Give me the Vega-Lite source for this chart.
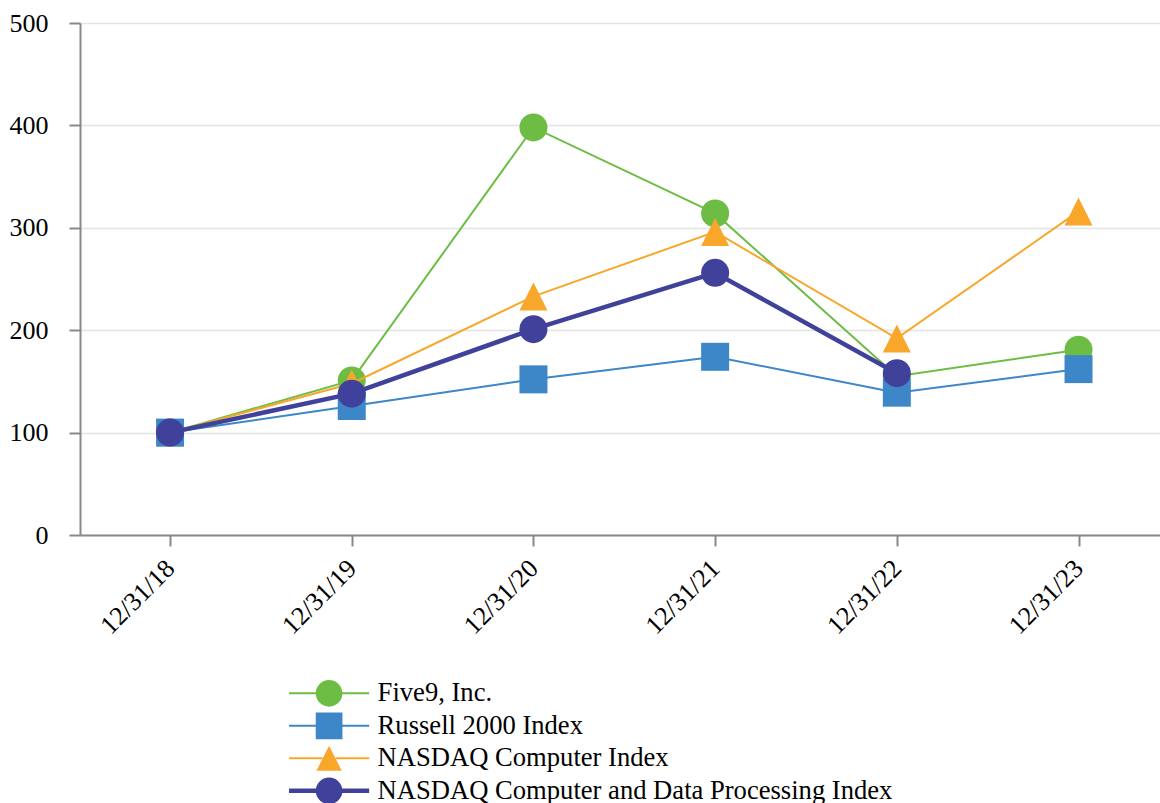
{
  "$schema": "https://vega.github.io/schema/vega-lite/v6.json",
  "width": 1080,
  "height": 512,
  "autosize": {"type": "none"},
  "padding": {"left": 80, "top": 23, "right": 0, "bottom": 268},
  "background": "white",
  "config": {
    "view": {"stroke": null},
    "font": "Liberation Serif",
    "legend": {
      "orient": "none", "legendX": 235.6, "legendY": 656.8, "direction": "vertical", "title": null,
      "padding": 0, "rowPadding": 4.5, "labelFont": "Liberation Serif", "labelFontSize": 26.6,
      "labelColor": "#000000", "labelOffset": 35, "labelLimit": 1000, "symbolSize": 713,
      "symbolStrokeWidth": 0, "symbolOpacity": 1
    }
  },
  "data": {
    "values": [
      {"date": "12/31/18", "series": "Five9, Inc.", "value": 100},
      {"date": "12/31/19", "series": "Five9, Inc.", "value": 151},
      {"date": "12/31/20", "series": "Five9, Inc.", "value": 398},
      {"date": "12/31/21", "series": "Five9, Inc.", "value": 314},
      {"date": "12/31/22", "series": "Five9, Inc.", "value": 155},
      {"date": "12/31/23", "series": "Five9, Inc.", "value": 181},
      {"date": "12/31/18", "series": "Russell 2000 Index", "value": 100},
      {"date": "12/31/19", "series": "Russell 2000 Index", "value": 126},
      {"date": "12/31/20", "series": "Russell 2000 Index", "value": 152},
      {"date": "12/31/21", "series": "Russell 2000 Index", "value": 174},
      {"date": "12/31/22", "series": "Russell 2000 Index", "value": 139},
      {"date": "12/31/23", "series": "Russell 2000 Index", "value": 162},
      {"date": "12/31/18", "series": "NASDAQ Computer Index", "value": 100},
      {"date": "12/31/19", "series": "NASDAQ Computer Index", "value": 148},
      {"date": "12/31/20", "series": "NASDAQ Computer Index", "value": 233},
      {"date": "12/31/21", "series": "NASDAQ Computer Index", "value": 296},
      {"date": "12/31/22", "series": "NASDAQ Computer Index", "value": 192},
      {"date": "12/31/23", "series": "NASDAQ Computer Index", "value": 316},
      {"date": "12/31/18", "series": "NASDAQ Computer and Data Processing Index", "value": 100},
      {"date": "12/31/19", "series": "NASDAQ Computer and Data Processing Index", "value": 138},
      {"date": "12/31/20", "series": "NASDAQ Computer and Data Processing Index", "value": 201},
      {"date": "12/31/21", "series": "NASDAQ Computer and Data Processing Index", "value": 256},
      {"date": "12/31/22", "series": "NASDAQ Computer and Data Processing Index", "value": 158}
    ]
  },
  "encoding": {
    "x": {
      "field": "date",
      "type": "ordinal",
      "scale": {"type": "point", "padding": 0.472, "align": 0.525},
      "axis": {
        "title": null,
        "labelAngle": -45,
        "labelAlign": "right",
        "labelBaseline": "middle",
        "labelFont": "Liberation Serif",
        "labelFontSize": 26,
        "labelColor": "#000000",
        "labelPadding": 18,
        "domainColor": "#888888",
        "domainWidth": 2,
        "tickColor": "#888888",
        "tickWidth": 2,
        "tickSize": 11,
        "grid": false
      }
    },
    "y": {
      "field": "value",
      "type": "quantitative",
      "scale": {"domain": [0, 500]},
      "axis": {
        "title": null,
        "values": [0, 100, 200, 300, 400, 500],
        "labelFont": "Liberation Serif",
        "labelFontSize": 26,
        "labelColor": "#000000",
        "labelPadding": 21,
        "domainColor": "#888888",
        "domainWidth": 2,
        "tickColor": "#888888",
        "tickWidth": 2,
        "tickSize": 11,
        "grid": true,
        "gridColor": "#e4e4e4",
        "gridWidth": 1.5
      }
    },
    "color": {
      "field": "series",
      "type": "nominal",
      "scale": {
        "domain": ["Five9, Inc.", "Russell 2000 Index", "NASDAQ Computer Index", "NASDAQ Computer and Data Processing Index"],
        "range": ["#6dbd45", "#3d87c8", "#f9a72b", "#40419a"]
      }
    }
  },
  "layer": [
    {"transform": [{"filter": "datum.series === 'Five9, Inc.'"}], "mark": {"type": "line", "strokeWidth": 2}},
    {"transform": [{"filter": "datum.series === 'Five9, Inc.'"}], "mark": {"type": "point", "filled": true, "opacity": 1, "shape": "circle", "size": 784}},
    {"transform": [{"filter": "datum.series === 'NASDAQ Computer Index'"}], "mark": {"type": "line", "strokeWidth": 2}},
    {"transform": [{"filter": "datum.series === 'NASDAQ Computer Index'"}], "mark": {"type": "point", "filled": true, "opacity": 1, "shape": "M0,-1L1,1L-1,1Z", "size": 784}},
    {"transform": [{"filter": "datum.series === 'Russell 2000 Index'"}], "mark": {"type": "line", "strokeWidth": 2}},
    {"transform": [{"filter": "datum.series === 'Russell 2000 Index'"}], "mark": {"type": "point", "filled": true, "opacity": 1, "shape": "square", "size": 784}},
    {"transform": [{"filter": "datum.series === 'NASDAQ Computer and Data Processing Index'"}], "mark": {"type": "line", "strokeWidth": 4.5}},
    {"transform": [{"filter": "datum.series === 'NASDAQ Computer and Data Processing Index'"}], "mark": {"type": "point", "filled": true, "opacity": 1, "shape": "circle", "size": 784}},
    {
      "mark": {"type": "point", "filled": true, "opacity": 0},
      "encoding": {
        "shape": {
          "field": "series",
          "type": "nominal",
          "scale": {
            "domain": ["Five9, Inc.", "Russell 2000 Index", "NASDAQ Computer Index", "NASDAQ Computer and Data Processing Index"],
            "range": [
              "M-3,-0.075L-0.99,-0.075L-0.99,0.075L-3,0.075Z M0.99,-0.075L3,-0.075L3,0.075L0.99,0.075Z M0,-1C0.5523,-1 1,-0.5523 1,0C1,0.5523 0.5523,1 0,1C-0.5523,1 -1,0.5523 -1,0C-1,-0.5523 -0.5523,-1 0,-1Z",
              "M-3,-0.075L-1,-0.075L-1,0.075L-3,0.075Z M1,-0.075L3,-0.075L3,0.075L1,0.075Z M-1,-1L1,-1L1,1L-1,1Z",
              "M-3,-0.075L-0.5,-0.075L-0.5,0.075L-3,0.075Z M0.5,-0.075L3,-0.075L3,0.075L0.5,0.075Z M0,-0.94L0.95,0.94L-0.95,0.94Z",
              "M-3,-0.17L-0.98,-0.17L-0.98,0.17L-3,0.17Z M0.98,-0.17L3,-0.17L3,0.17L0.98,0.17Z M0,-1C0.5523,-1 1,-0.5523 1,0C1,0.5523 0.5523,1 0,1C-0.5523,1 -1,0.5523 -1,0C-1,-0.5523 -0.5523,-1 0,-1Z"
            ]
          }
        }
      }
    }
  ]
}
